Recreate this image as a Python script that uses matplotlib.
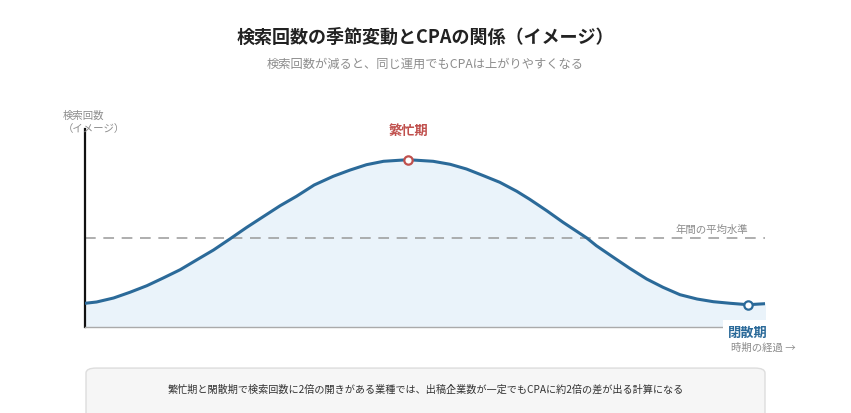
import matplotlib
matplotlib.use("Agg")
from matplotlib import pyplot as plt
from matplotlib.patches import FancyBboxPatch

plt.rcParams['font.family'] = ['Noto Sans CJK JP', 'DejaVu Sans']

# 時期（0〜100）と検索回数（イメージ値）
time_x = [0, 1.7, 4.2, 6.6, 9.1, 11.5, 14.0, 16.4, 18.9, 21.3, 23.8, 26.2,
          28.7, 31.1, 33.7, 36.5, 39.0, 41.4, 43.9, 47.5, 51.2, 53.7, 56.1,
          58.6, 61.0, 63.5, 65.4, 67.9, 70.3, 73.8, 75.2, 77.7, 80.1, 82.6,
          85.0, 87.5, 90.0, 92.4, 94.9, 97.5, 100]
search_count = [23.7, 25, 29, 34.7, 41.3, 49, 57.3, 67, 77, 88, 99.7, 110.3,
                121.3, 130.7, 142, 150.7, 157, 162.3, 165.7, 167.3, 165.7, 162.7,
                158, 151.3, 144.7, 135.7, 127.7, 116.3, 104.7, 89, 81.3, 69.7,
                58.7, 48, 39.7, 32.3, 28, 25.3, 23.7, 22.3, 23.3]
average_level = 89
peak_x, peak_y = 47.5, 167.3
low_x, low_y = 97.5, 22.3

title = '検索回数の季節変動とCPAの関係（イメージ）'
subtitle = '検索回数が減ると、同じ運用でもCPAは上がりやすくなる'
note = '繁忙期と閑散期で検索回数に2倍の開きがある業種では、出稿企業数が一定でもCPAに約2倍の差が出る計算になる'

line_color = '#2b6a99'
red = '#c0504d'
gray = '#8c8c8c'

fig = plt.figure(figsize=(8.51, 4.14), dpi=100)
ax = fig.add_axes([85 / 851, 86 / 414, 680 / 851, 198 / 414])

ax.fill_between(time_x, search_count, 0, color='#eaf3fa', zorder=1)
ax.plot(time_x, search_count, color=line_color, lw=2.2, zorder=3,
        solid_joinstyle='round', solid_capstyle='round')
ax.axhline(average_level, color='#999999', lw=1.1, dashes=(7, 5), zorder=2)

ax.plot(peak_x, peak_y, 'o', ms=6, mfc='white', mec=red, mew=1.6, zorder=4)
ax.plot(low_x, low_y, 'o', ms=6, mfc='white', mec=line_color, mew=1.6, zorder=4)

ax.set_xlim(0, 100)
ax.set_ylim(0, 198)
ax.set_xticks([])
ax.set_yticks([])
for s in ['top', 'right']:
    ax.spines[s].set_visible(False)
ax.spines['left'].set_color('#111111')
ax.spines['left'].set_linewidth(1.6)
ax.spines['bottom'].set_color('#aaaaaa')
ax.spines['bottom'].set_linewidth(1.0)

ax.text(peak_x, 197, '繁忙期', color=red, fontsize=9.5, fontweight='bold',
        ha='center', va='center')
ax.text(97.5, 98, '年間の平均水準', color=gray, fontsize=7.5, ha='right', va='center')
ax.text(100.4, -5, '閉散期', color=line_color, fontsize=9.5, fontweight='bold',
        ha='right', va='center', clip_on=False,
        bbox=dict(boxstyle='square,pad=0.35', fc='white', ec='none'))
ax.text(104.5, -20, '時期の経過 →', color=gray, fontsize=7.5, ha='right', va='center',
        clip_on=False)

fig.text(0.5, 1 - 37 / 414, title, fontsize=13, fontweight='bold', color='#222222',
         ha='center', va='center')
fig.text(0.5, 1 - 64 / 414, subtitle, fontsize=8.8, color=gray,
         ha='center', va='center')
fig.text(63 / 851, 1 - 116 / 414, '検索回数', fontsize=7.5, color=gray,
         ha='left', va='center')
fig.text(63 / 851, 1 - 129 / 414, '（イメージ）', fontsize=7.5, color=gray,
         ha='left', va='center')

box = FancyBboxPatch((86 / 851, -0.05), 679 / 851, (414 - 367) / 414 + 0.05 - 0.005,
                     boxstyle='round,pad=0,rounding_size=0.012',
                     transform=fig.transFigure, fc='#f6f6f6', ec='#dddddd', lw=1.0)
fig.patches.append(box)
fig.text(0.5, 1 - 390 / 414, note, fontsize=7.3, color='#333333',
         ha='center', va='center')

fig.savefig('out.png', dpi=100)
